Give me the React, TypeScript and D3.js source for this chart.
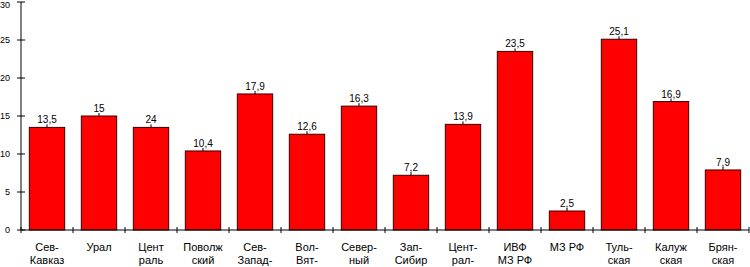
import React, { useEffect, useRef } from "react";
import * as d3 from "d3";

// категории (две строки подписи)
const categories = [
  ["Сев-", "Кавказ"],
  ["Урал", ""],
  ["Цент", "раль"],
  ["Поволж", "ский"],
  ["Сев-", "Запад-"],
  ["Вол-", "Вят-"],
  ["Север-", "ный"],
  ["Зап-", "Сибир"],
  ["Цент-", "рал-"],
  ["ИВФ", "МЗ РФ"],
  ["МЗ РФ", ""],
  ["Туль-", "ская"],
  ["Калуж", "ская"],
  ["Брян-", "ская"],
];
const values = [13.5, 15, 13.5, 10.4, 17.9, 12.6, 16.3, 7.2, 13.9, 23.5, 2.5, 25.1, 16.9, 7.9];
const valueLabels = ["13,5", "15", "24", "10,4", "17,9", "12,6", "16,3", "7,2", "13,9", "23,5", "2,5", "25,1", "16,9", "7,9"];
const yTicks = [0, 5, 10, 15, 20, 25, 30];

const W = 750;
const H = 267;

export default function App() {
  const ref = useRef<SVGSVGElement>(null);

  useEffect(() => {
    const svg = d3.select(ref.current);
    svg.selectAll("*").remove();

    const x = d3
      .scaleBand<number>()
      .domain(d3.range(values.length))
      .range([21, 749])
      .paddingInner(0.32)
      .paddingOuter(0.16);
    const step = x.step();

    const y = d3.scaleLinear().domain([0, 30]).range([230, 2]);

    // столбцы
    svg
      .append("g")
      .selectAll("rect")
      .data(values)
      .join("rect")
      .attr("x", (d, i) => x(i)!)
      .attr("y", (d) => y(d))
      .attr("width", x.bandwidth())
      .attr("height", (d) => y(0) - y(d))
      .attr("fill", "#ff0000")
      .attr("stroke", "#3a0000")
      .attr("stroke-width", 1);

    // подписи значений
    const lab = svg.append("g").attr("font-family", "Liberation Sans, Arial, sans-serif").attr("font-size", 10);
    values.forEach((v, i) => {
      const cx = x(i)! + x.bandwidth() / 2;
      lab
        .append("text")
        .attr("x", cx)
        .attr("y", y(v) - 4)
        .attr("text-anchor", "middle")
        .attr("fill", "#000")
        .text(valueLabels[i]);
      lab
        .append("line")
        .attr("x1", cx)
        .attr("x2", cx)
        .attr("y1", y(v) - 3)
        .attr("y2", y(v))
        .attr("stroke", "#000");
    });

    // ось y
    const gy = svg.append("g");
    gy.append("line").attr("x1", 21).attr("x2", 21).attr("y1", y(30)).attr("y2", y(0)).attr("stroke", "#000");
    yTicks.forEach((t) => {
      gy.append("line").attr("x1", 17).attr("x2", 25).attr("y1", y(t)).attr("y2", y(t)).attr("stroke", "#000");
      gy.append("text")
        .attr("x", 10)
        .attr("y", Math.max(y(t), 5))
        .attr("dy", "0.35em")
        .attr("text-anchor", "end")
        .attr("font-family", "Liberation Sans, Arial, sans-serif")
        .attr("font-size", 9)
        .text(t);
    });

    // ось x
    const gx = svg.append("g");
    gx.append("line").attr("x1", 21).attr("x2", 749).attr("y1", 230).attr("y2", 230).attr("stroke", "#000");
    d3.range(values.length + 1).forEach((i) => {
      const tx = 21 + i * step;
      gx.append("line").attr("x1", tx).attr("x2", tx).attr("y1", 227).attr("y2", 233).attr("stroke", "#000");
    });
    categories.forEach((c, i) => {
      const cx = x(i)! + x.bandwidth() / 2;
      c.forEach((line, k) => {
        gx.append("text")
          .attr("x", cx)
          .attr("y", 251 + k * 13)
          .attr("text-anchor", "middle")
          .attr("font-family", "Liberation Sans, Arial, sans-serif")
          .attr("font-size", 11)
          .text(line);
      });
    });
  }, []);

  return (
    <svg
      ref={ref}
      width={W}
      height={H}
      style={{ position: "absolute", left: 0, top: 0, background: "#fff" }}
    />
  );
}
